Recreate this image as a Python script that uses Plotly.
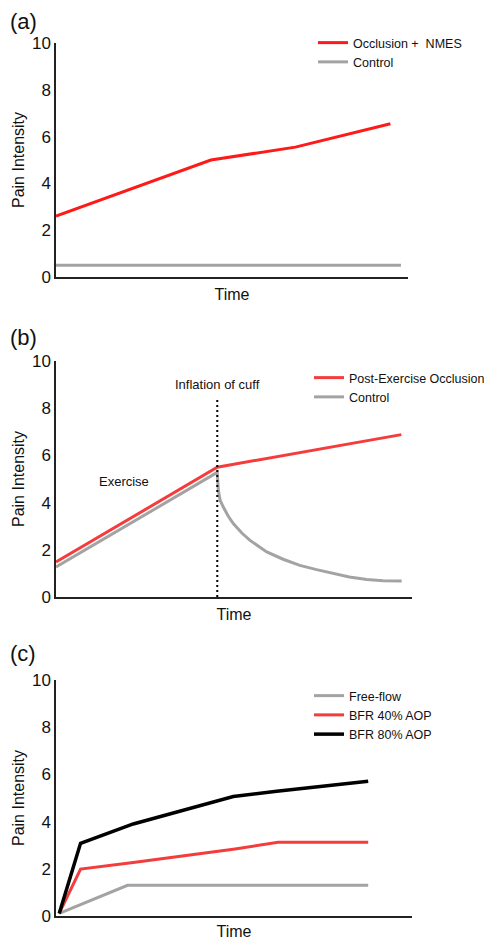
import plotly.graph_objects as go

# ---------------- data ----------------
# Panel (a)
a_occ_x = [0, 44, 68, 95]
a_occ_y = [2.6, 5.0, 5.55, 6.55]
a_ctl_x = [0, 98]
a_ctl_y = [0.5, 0.5]

# Panel (b)
b_peo_x = [0, 45.3, 97]
b_peo_y = [1.48, 5.5, 6.88]
b_ctl_x = [0, 45.3, 45.6, 46.1, 47.0, 48.4, 49.8, 52.2, 54.5, 56.8, 59.2, 63.8, 68.5,
           73.2, 77.9, 82.4, 87.3, 91.9, 97.1]
b_ctl_y = [1.27, 5.28, 4.52, 4.10, 3.81, 3.42, 3.11, 2.71, 2.40, 2.15, 1.91, 1.60, 1.34,
           1.16, 0.99, 0.85, 0.74, 0.69, 0.68]
b_cuff_x = [45.3, 45.3]
b_cuff_y = [0, 8.45]

# Panel (c)
c_free_x = [0.9, 20.1, 87.7]
c_free_y = [0.11, 1.3, 1.3]
c_b40_x = [0.9, 6.9, 21.7, 40.4, 50.3, 62.4, 87.7]
c_b40_y = [0.11, 1.99, 2.27, 2.63, 2.84, 3.12, 3.12]
c_b80_x = [0.9, 6.9, 21.7, 49.8, 62.0, 87.7]
c_b80_y = [0.11, 3.08, 3.9, 5.06, 5.29, 5.71]

y_ticks = [0, 2, 4, 6, 8, 10]

RED_A = "#ff1a1a"
RED = "#f43c3c"
GRAY = "#a3a3a3"
BLACK = "#000000"
FONT = "Liberation Sans, Arial, sans-serif"

# the page body has an 8px default margin, so the figure is shifted by OFF
OFF = 8
W, H = 492 - OFF, 940 - OFF

fig = go.Figure()

# (a)
fig.add_trace(go.Scatter(x=a_occ_x, y=a_occ_y, mode="lines", name="Occlusion +\u00a0 NMES",
                         line=dict(color=RED_A, width=3), xaxis="x", yaxis="y", legend="legend"))
fig.add_trace(go.Scatter(x=a_ctl_x, y=a_ctl_y, mode="lines", name="Control",
                         line=dict(color=GRAY, width=3), xaxis="x", yaxis="y", legend="legend"))
# (b)
fig.add_trace(go.Scatter(x=b_peo_x, y=b_peo_y, mode="lines", name="Post-Exercise Occlusion",
                         line=dict(color=RED, width=3), xaxis="x2", yaxis="y2", legend="legend2"))
fig.add_trace(go.Scatter(x=b_ctl_x, y=b_ctl_y, mode="lines", name="Control",
                         line=dict(color=GRAY, width=3), xaxis="x2", yaxis="y2", legend="legend2"))
fig.add_trace(go.Scatter(x=b_cuff_x, y=b_cuff_y, mode="lines", showlegend=False,
                         line=dict(color=BLACK, width=2, dash="2px,3px"), xaxis="x2", yaxis="y2"))
# (c)
fig.add_trace(go.Scatter(x=c_free_x, y=c_free_y, mode="lines", name="Free-flow",
                         line=dict(color=GRAY, width=3), xaxis="x3", yaxis="y3", legend="legend3"))
fig.add_trace(go.Scatter(x=c_b40_x, y=c_b40_y, mode="lines", name="BFR 40% AOP",
                         line=dict(color=RED, width=3), xaxis="x3", yaxis="y3", legend="legend3"))
fig.add_trace(go.Scatter(x=c_b80_x, y=c_b80_y, mode="lines", name="BFR 80% AOP",
                         line=dict(color=BLACK, width=3.5), xaxis="x3", yaxis="y3", legend="legend3"))


def px_x(p):
    return (p - OFF) / W


def px_y(p):
    return 1 - (p - OFF) / H


def xax(x0, x1, anchor):
    return dict(domain=[px_x(x0), px_x(x1)], range=[0, 100], showline=True, linecolor="#222",
                linewidth=1.5, showgrid=False, zeroline=False, showticklabels=False, ticks="",
                anchor=anchor, fixedrange=True, automargin=False,
                title=dict(text="Time", font=dict(size=16, color="#111", family=FONT), standoff=11))


def yax(top, bottom, anchor):
    return dict(domain=[px_y(bottom), px_y(top)], range=[0, 10], showline=True, linecolor="#222",
                linewidth=1.5, showgrid=False, zeroline=False, tickvals=y_ticks, ticks="",
                tickfont=dict(size=17, color="#111", family=FONT), anchor=anchor, fixedrange=True,
                automargin=False,
                title=dict(text="Pain Intensity", font=dict(size=16, color="#111", family=FONT),
                           standoff=3))


def leg(xp, yp):
    return dict(x=px_x(xp), y=px_y(yp), xanchor="left", yanchor="top", bgcolor="rgba(0,0,0,0)",
                font=dict(size=12.5, color="#111", family=FONT), tracegroupgap=0,
                itemwidth=30, traceorder="normal")


fig.update_layout(
    width=W, height=H,
    margin=dict(l=0, r=0, t=0, b=0, autoexpand=False),
    paper_bgcolor="white", plot_bgcolor="white",
    font=dict(family=FONT, color="#111"),
    xaxis=xax(56, 408, "y"), yaxis=yax(43, 277, "x"),
    xaxis2=xax(56, 412, "y2"), yaxis2=yax(361, 597, "x2"),
    xaxis3=xax(56, 412, "y3"), yaxis3=yax(680, 916, "x3"),
    legend=leg(313, 28),
    legend2=leg(309, 363),
    legend3=leg(309, 681),
    annotations=[
        dict(text="(a)", x=px_x(8), y=px_y(22), xref="paper", yref="paper", xanchor="left",
             yanchor="middle", showarrow=False, font=dict(size=22, color="#111", family=FONT)),
        dict(text="(b)", x=px_x(8), y=px_y(337), xref="paper", yref="paper", xanchor="left",
             yanchor="middle", showarrow=False, font=dict(size=22, color="#111", family=FONT)),
        dict(text="(c)", x=px_x(8), y=px_y(653), xref="paper", yref="paper", xanchor="left",
             yanchor="middle", showarrow=False, font=dict(size=22, color="#111", family=FONT)),
        dict(text="Inflation of cuff", x=45.3, y=9.0, xref="x2", yref="y2", showarrow=False,
             xanchor="center", yanchor="middle", font=dict(size=13, color="#111", family=FONT)),
        dict(text="Exercise", x=19.1, y=4.9, xref="x2", yref="y2", showarrow=False,
             xanchor="center", yanchor="middle", font=dict(size=13, color="#111", family=FONT)),
    ],
)

fig.write_html("out.html")
